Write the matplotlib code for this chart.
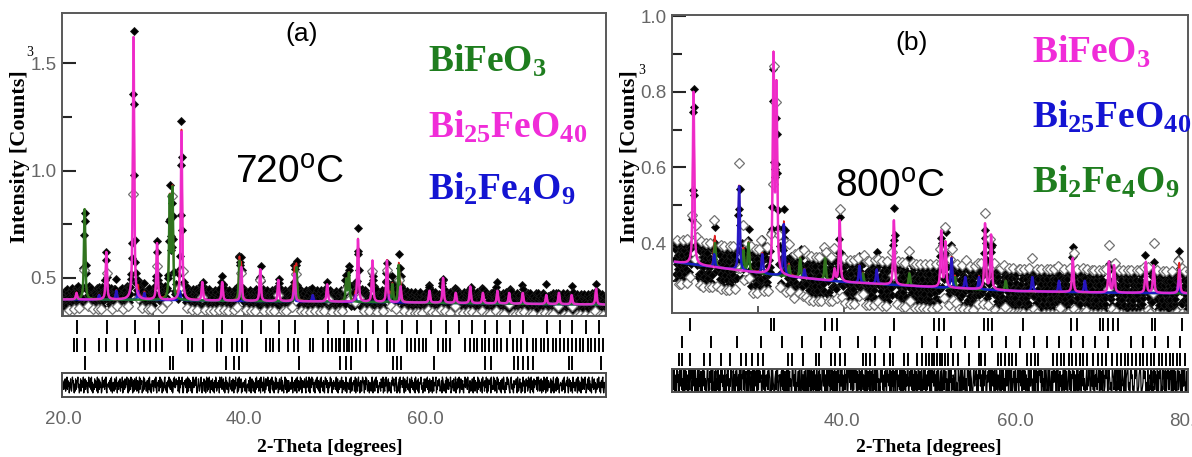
import numpy as np
import matplotlib.pyplot as plt

plt.rcParams['mathtext.fontset'] = 'custom'
plt.rcParams['mathtext.rm'] = 'Liberation Sans'
plt.rcParams['mathtext.bf'] = 'Liberation Serif:bold'

W, H = 1192, 457
GREEN, MAGENTA, BLUE, RED = '#1e7d1e', '#f02cd8', '#1414d2', '#e02020'
TICKFONT = 'Liberation Sans'

# Bragg reflection positions (2-theta, deg)
bfo_refl = [22.4, 31.8, 32.1, 38.0, 38.9, 39.4, 46.0, 50.6, 51.2, 51.8, 56.4, 56.9,
            57.3, 60.9, 66.5, 67.2, 69.8, 70.2, 70.7, 71.3, 71.9, 75.8, 76.2, 79.3]
b25_refl = [21.5, 24.9, 27.9, 30.6, 33.1, 35.4, 37.6, 39.8, 41.9, 43.8, 45.6, 49.2,
            51.0, 52.6, 54.2, 55.8, 57.4, 59.0, 60.6, 62.2, 63.7, 65.1, 66.5, 67.9,
            69.3, 70.8, 73.4, 74.8, 76.2, 77.7, 79.1]
b24_refl = [21.2, 21.5, 22.4, 24.0, 24.7, 26.0, 27.1, 28.3, 28.9, 29.6, 30.3, 30.9,
            33.8, 34.2, 35.5, 37.0, 37.4, 38.7, 39.2, 39.8, 40.3, 42.4, 42.8, 43.2,
            43.8, 44.8, 45.5, 45.9, 47.2, 47.6, 48.7, 49.2, 49.7, 50.1, 50.4, 50.6,
            51.0, 51.3, 51.6, 51.9, 52.3, 52.8, 53.4, 54.7, 55.8, 56.1, 56.5, 58.0,
            58.4, 58.8, 59.3, 59.7, 60.1, 61.4, 61.9, 62.3, 62.7, 64.4, 64.9, 65.3,
            65.7, 66.2, 66.6, 67.0, 67.5, 67.9, 68.3, 69.0, 69.6, 70.1, 70.5, 71.2,
            71.8, 72.2, 72.7, 73.1, 73.5, 74.0, 74.4, 74.8, 75.3, 75.7, 76.1, 76.6,
            77.0, 77.4, 77.9, 78.3, 78.7, 79.1, 79.6]

# ---- (a) 720 C ----
bg_a_x = [19.9, 30, 40, 50, 60, 70, 80]
bg_a_y = [0.400, 0.398, 0.393, 0.390, 0.385, 0.380, 0.376]
bfo_a_pos = [22.4, 31.8, 32.1, 39.5, 45.8, 51.3, 51.6, 56.4, 57.1]
bfo_a_top = [0.82, 0.86, 0.90, 0.58, 0.55, 0.49, 0.52, 0.47, 0.56]
b25_a_pos = [21.5, 24.8, 27.8, 30.4, 33.1, 35.4, 37.6, 39.7, 41.8, 43.8, 45.6, 49.2,
             52.6, 54.2, 55.8, 57.3, 60.5, 62.0, 63.4, 65.0, 66.4, 68.0, 69.3, 70.8,
             73.4, 74.8, 76.2, 78.9]
b25_a_top = [0.43, 0.62, 1.62, 0.66, 1.18, 0.48, 0.48, 0.55, 0.54, 0.49, 0.52, 0.47,
             0.68, 0.58, 0.58, 0.46, 0.44, 0.50, 0.43, 0.46, 0.43, 0.44, 0.43, 0.43,
             0.42, 0.43, 0.42, 0.45]
b24_a_pos = [24.0, 25.9, 28.3, 29.0, 32.9, 45.5, 47.6, 52.3, 56.1]
b24_a_top = [0.42, 0.44, 0.44, 0.43, 0.44, 0.43, 0.42, 0.42, 0.42]
# obs - calc, one digit per 0.05 deg step (0..9 around 4.5)
res_a = ("45362748153927460358214967305182476935024817365902"
         "38274610594738291604528374619058273640193756284910"
         "55463728194036518274930562748165390147283659420817"
         "62948305718462913750492865703192846315706829415037"
         "47165839205647129384706153892416057493827516028493"
         "34857612904375892016574382096184375160295374869102"
         "58612479302658173049618259403725816407398125637094"
         "43927581603947265018943271586072394560812943780516"
         "66371840255371692048371654082965371284097361594028"
         "25849631704859271603592843601782459176304592860371"
         "71436259806437158209437162958017643852093647192058"
         "39584162075839427160839456172049583720163594810627"
         "54627913804627538901725461980365427803912465713908"
         "83159460273159864072958312740653189402671859376024"
         "46218735906218495307814623075946821579302461809375"
         "57392084167392541806395726418095327180465793240618"
         "61485392704861572093156489032764851237098641537092"
         "38726549012736815490628734901583267105493678295401"
         "75163820495173640928375162809465173492081375680942"
         "42958173609584236170584297103624958631078942510736"
         "56830941278360521947603584712935806924170836574291"
         "29671458036719258034912763458072619053481692783045"
         "64517382901567492038471652098356147830927145609328"
         "37289601548293715406937284601528379516047389206541"
         "81543279604538179602138549602758413207963415867920"
         "52674190386745230918745268103925674930184675208193")

# ---- (b) 800 C ----
bg_b_x = [20.3, 25, 30, 35, 40, 50, 60, 70, 80.1]
bg_b_y = [0.350, 0.336, 0.321, 0.308, 0.297, 0.284, 0.273, 0.269, 0.267]
bfo_b_pos = [22.5, 31.8, 32.15, 38.9, 39.5, 45.8, 51.3, 51.8, 56.4, 57.1, 66.6, 70.8,
             71.4, 75.1, 76.0, 79.0]
bfo_b_top = [0.80, 0.88, 0.80, 0.33, 0.46, 0.46, 0.43, 0.40, 0.45, 0.42, 0.36, 0.35,
             0.34, 0.35, 0.34, 0.33]
b25_b_pos = [24.9, 27.8, 30.5, 33.0, 35.4, 41.8, 43.8, 52.5, 54.1, 55.7, 61.9, 65.0,
             68.0, 78.9]
b25_b_top = [0.37, 0.55, 0.37, 0.45, 0.33, 0.34, 0.33, 0.36, 0.31, 0.31, 0.31, 0.30,
             0.30, 0.30]
b24_b_pos = [25.0, 28.3, 28.9, 33.6, 34.9, 37.8, 42.2, 47.6, 52.9, 58.8]
b24_b_top = [0.40, 0.38, 0.40, 0.34, 0.36, 0.36, 0.32, 0.32, 0.31, 0.30]
res_b = ("57284916302847506193748253196085274603194275813096"
         "63918250479183640725186937254036981052746931852407"
         "48152739061528497360528140639781425396702485160739"
         "75036182493065782914675032914853076418290756394182"
         "29847560138472910563472986503192874301567294801365"
         "61573829405731629048167354028973561982043571682409"
         "84260375196204851937408267319526408951370846231975"
         "37915640821579380642931752806471359462085379160428"
         "52648103976482539017285469307146285710398526403917"
         "90473628154730915628730948615230947582610473921586"
         "46381950273814670295814635297063814092571463897025"
         "73592481605923716048923756084135927840162735941608"
         "18647359206471829503471860359286471520397186490352"
         "65208791432086541937086523791452086943718652013794"
         "34759026187593460281934758102647593208165934708162"
         "87316542903168729045168734590268731902547316802549"
         "52094683710945283716452091768394520368172094571368"
         "69481273504816975023816943057216948573029481602735"
         "41627930586274105893274165893074162390851627480539"
         "78253104692537864109537829104637825469108253709461"
         "23965871049652341087652397041852396187043965204871"
         "56798324017985623014856794012367985012349856731240"
         "94130658271309482756309412756841309586270941375862"
         "37582096145823714069823756149025837960417358240196"
         "60417283954176095283760418395217604528390417639528"
         "85926410739268570431268590431768592317045926817043")


def curve(x, pos, top, bgx, bgy, fwhm):
    net = np.asarray(top) - np.interp(pos, bgx, bgy)
    y = np.zeros_like(x)
    for p, a in zip(pos, net):
        d = 2 * (x - p) / fwhm
        y += a * (0.7 / (1 + d ** 2) + 0.3 * np.exp(-np.log(2) * d ** 2))
    return y


def rect(l, t, r, b):
    return [l / W, 1 - b / H, (r - l) / W, (b - t) / H]


def draw_panel(fig, box, xlim, ylim, yticks, yminor, bgx, bgy, phases, rows,
               res_str, amp, diff_lim, fwhm, xticks, xpad, grey_digits):
    l, r, t, b, tick_t, tick_b, diff_t, diff_b = box
    ax = fig.add_axes(rect(l, t, r, b))
    tax = fig.add_axes(rect(l, tick_t, r, tick_b))
    dax = fig.add_axes(rect(l, diff_t, r, diff_b))

    digits = np.array([int(c) for c in res_str])
    x_obs = xlim[0] + 0.05 * np.arange(len(digits))
    res = (digits - 4.5) * amp
    xf = np.arange(xlim[0], xlim[1], 0.01)

    calc_obs = np.interp(x_obs, bgx, bgy)
    calc_f = np.interp(xf, bgx, bgy)
    parts = []
    for pos, top, color in phases:
        calc_obs = calc_obs + curve(x_obs, pos, top, bgx, bgy, fwhm)
        part = curve(xf, pos, top, bgx, bgy, fwhm)
        calc_f = calc_f + part
        parts.append((part, color))
    obs = calc_obs + res

    # observed points: solid black band, paler open diamonds for the strays
    edge = np.isin(digits, grey_digits)
    ax.plot(x_obs[~edge], obs[~edge], 'D', ms=4.5, mfc='k', mec='0.1', mew=0.6)
    ax.plot(x_obs[edge], obs[edge], 'D', ms=5, mfc='white', mec='0.45', mew=0.9)
    ax.plot(xf, calc_f, color=RED, lw=1.2)
    base = np.interp(xf, bgx, bgy)
    for part, color in parts:
        ax.plot(xf, base + part, color=color, lw=1.8, alpha=0.9)

    ax.set_xlim(xlim)
    ax.set_ylim(ylim)
    ax.set_xticks([20, 40, 60, 80])
    ax.set_xticks([30, 50, 70], minor=True)
    ax.set_yticks(yticks)
    ax.set_yticks(yminor, minor=True)
    ax.set_yticklabels(['%.1f' % v for v in yticks])
    ax.tick_params(axis='x', which='both', direction='in', labelbottom=False,
                   color='0.25', width=1.2)
    ax.tick_params(axis='x', which='major', length=11)
    ax.tick_params(axis='x', which='minor', length=5)
    ax.tick_params(axis='y', which='both', direction='in', color='0.15', width=1.5,
                   labelsize=13.5, labelcolor='0.4', pad=4)
    ax.tick_params(axis='y', which='major', length=10)
    ax.tick_params(axis='y', which='minor', length=7)
    for lab in ax.get_yticklabels():
        lab.set_family(TICKFONT)
    for s in ax.spines.values():
        s.set_color('0.35')
        s.set_linewidth(1.4)

    ys = [2.5, 1.5, 0.5]
    for refl, yc in zip(rows, ys):
        tax.vlines(refl, yc - 0.37, yc + 0.37, color='k', lw=1.4)
    tax.set_xlim(xlim)
    tax.set_ylim(0, 3)
    tax.axis('off')

    dax.plot(x_obs, res, color='k', lw=0.9)
    dax.set_xlim(xlim)
    dax.set_ylim(-diff_lim, diff_lim)
    dax.set_yticks([])
    dax.set_xticks(xticks)
    dax.set_xticklabels(['%.1f' % v for v in xticks])
    dax.tick_params(axis='x', length=0, labelsize=13.5, labelcolor='0.4', pad=xpad)
    for lab in dax.get_xticklabels():
        lab.set_family(TICKFONT)
    for s in dax.spines.values():
        s.set_color('0.3')
        s.set_linewidth(1.4)
    return ax


fig = plt.figure(figsize=(W / 100, H / 100), dpi=100)

draw_panel(fig, (62, 606, 13, 316, 318, 372, 373, 397), (19.9, 79.9), (0.323, 1.733),
           [0.5, 1.0, 1.5], [0.75, 1.25], bg_a_x, bg_a_y,
           [(b24_a_pos, b24_a_top, BLUE), (bfo_a_pos, bfo_a_top, GREEN),
            (b25_a_pos, b25_a_top, MAGENTA)],
           [b25_refl, b24_refl, bfo_refl], res_a, 0.011, 0.075, 0.18,
           [20, 40, 60], 10, [0])

draw_panel(fig, (672, 1188, 15, 313, 316, 368, 369, 392), (20.35, 80.0), (0.215, 1.003),
           [0.4, 0.6, 0.8, 1.0], [0.3, 0.5, 0.7, 0.9], bg_b_x, bg_b_y,
           [(b24_b_pos, b24_b_top, GREEN), (b25_b_pos, b25_b_top, BLUE),
            (bfo_b_pos, bfo_b_top, MAGENTA)],
           [bfo_refl, b25_refl, b24_refl], res_b, 0.013, 0.04, 0.2,
           [40, 60, 80], 15, [0, 9])


def ftext(x, y, s, **kw):
    fig.text(x / W, 1 - y / H, s, **kw)


serif_bold = dict(family='Liberation Serif', weight='bold')
for x0 in (20, 630):
    ftext(x0, 157, 'Intensity [Counts]', rotation=90, ha='center', va='center',
          size=16, **serif_bold)
ftext(30, 52, '3', ha='center', va='center', size=10, family='Liberation Serif')
ftext(642, 70, '3', ha='center', va='center', size=10, family='Liberation Serif')
ftext(330, 447, '2-Theta [degrees]', ha='center', va='center', size=14, **serif_bold)
ftext(929, 447, '2-Theta [degrees]', ha='center', va='center', size=14, **serif_bold)

sans = dict(family='Liberation Sans')
ftext(302, 34, '(a)', ha='center', va='center', size=19, **sans)
ftext(912, 43, '(b)', ha='center', va='center', size=19, **sans)
ftext(235, 183, r'720$^{\mathrm{o}}$C', ha='left', va='baseline', size=28, **sans)
ftext(835, 197, r'800$^{\mathrm{o}}$C', ha='left', va='baseline', size=28, **sans)

formulas = [r'$\mathbf{BiFeO_3}$', r'$\mathbf{Bi_{25}FeO_{40}}$', r'$\mathbf{Bi_2Fe_4O_9}$']
for s, c, y in zip(formulas, [GREEN, MAGENTA, BLUE], [72, 138, 200]):
    ftext(428, y, s, ha='left', va='baseline', size=27, color=c)
for s, c, y in zip(formulas, [MAGENTA, BLUE, GREEN], [63, 128, 193]):
    ftext(1032, y, s, ha='left', va='baseline', size=27, color=c)

fig.savefig('out.png', dpi=100)
